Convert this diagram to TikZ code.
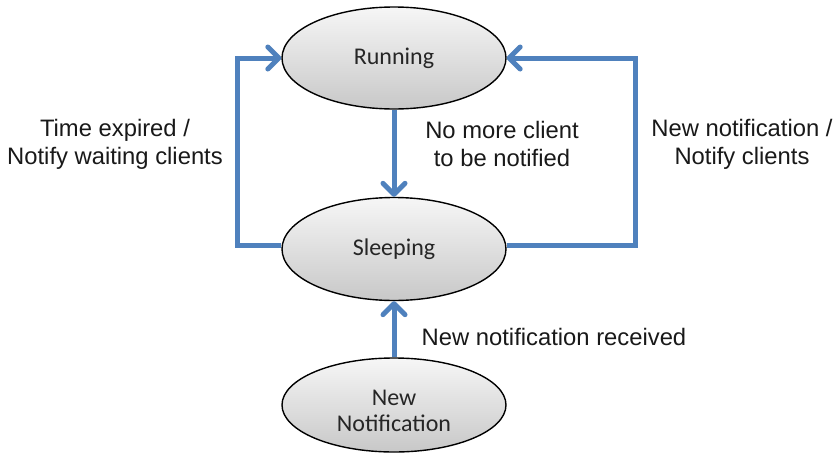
\documentclass[tikz,border=0pt]{standalone}
\usepackage{fontspec}
\setmainfont{Liberation Sans}
\newfontfamily\statefont{Carlito}
\usetikzlibrary{shapes.geometric,arrows.meta,calc}
\definecolor{flowblue}{RGB}{79,129,189}
\definecolor{shadetop}{RGB}{246,246,246}
\definecolor{shadebot}{RGB}{200,200,200}
\tikzset{
  state/.style={ellipse, draw=black, line width=1.4pt, inner sep=0pt,
    minimum width=224pt, top color=shadetop, bottom color=shadebot,
    align=center, font=\statefont\fontsize{24}{26}\selectfont, text=black!85},
  flow/.style={draw=flowblue, line width=5pt, line join=miter,
    -{Straight Barb[length=11pt, width=22pt, round]}},
  note/.style={align=center, font=\fontsize{23.8}{28}\selectfont, text=black!90}
}
\begin{document}
\begin{tikzpicture}[x=1pt, y=-1pt]
  \useasboundingbox (0,0) rectangle (836,458);
  \fill[white] (0,0) rectangle (836,458);

  % states
  \node[state, minimum height=102pt] (run) at (394,58) {Running};
  \node[state, minimum height=103pt] (sleep) at (394,249) {Sleeping};
  \node[state, minimum height=94pt] (newn) at (394,405)
    {\rule{0pt}{28pt}New\\Notification};

  % turning points of the side loops
  \coordinate (lx) at (237,0);
  \coordinate (rx) at (635,0);

  % connectors
  \draw[flow] (run.south) -- (sleep.north);
  \draw[flow] (newn.north) -- (sleep.south);
  \draw[flow] ([yshift=4pt]sleep.west) -| (lx |- run.west) -- (run.west);
  \draw[flow] ([yshift=4pt]sleep.east) -| (rx |- run.east) -- (run.east);

  % labels
  \node[note] (lbl1) at (115,144) {Time expired /\\Notify waiting clients};
  \node[note] (lbl2) at (502,144) {No more client\\to be notified};
  \node[note] (lbl3) at (742,144) {New notification /\\Notify clients};
  \node[note] (lbl4) at (554,337) {New notification received};
\end{tikzpicture}
\end{document}
